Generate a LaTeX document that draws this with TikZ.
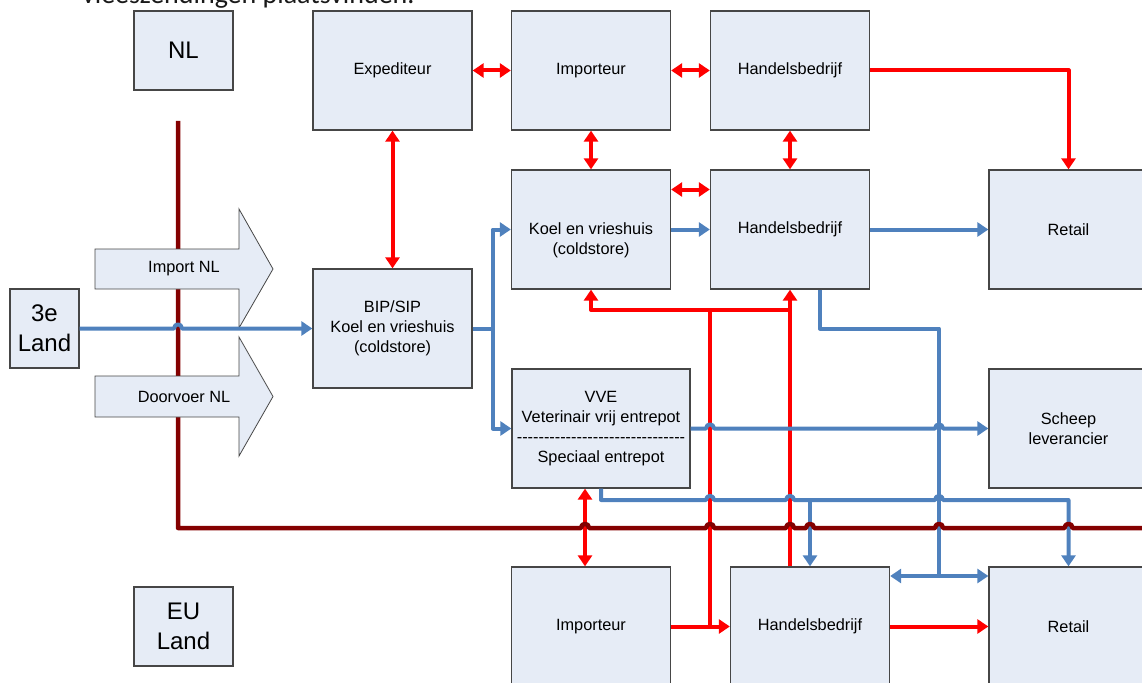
\documentclass[tikz,border=0pt]{standalone}
\usepackage{fontspec}
\setmainfont{Liberation Sans}
\newfontfamily\topfont{Carlito}
\usetikzlibrary{arrows.meta,calc}
\definecolor{boxfill}{RGB}{230,236,246}
\definecolor{boxline}{RGB}{70,70,70}
\definecolor{flowblue}{RGB}{79,129,189}
\definecolor{flowred}{RGB}{255,0,0}
\definecolor{borderred}{RGB}{132,0,0}
\newcommand\dashrow{-{}-{}-{}-{}-{}-{}-{}-{}-{}-{}-{}-{}-{}-{}-{}-{}-{}-{}-{}-{}-{}-{}-{}-{}-{}-{}-{}-{}-{}-{}-{}}
\begin{document}
\begin{tikzpicture}[x=1pt,y=-1pt,
  box/.style={draw=boxline,fill=boxfill,line width=1.3pt,minimum width=159pt,minimum height=119pt,inner sep=0pt,align=center,font=\fontsize{16.3}{20}\selectfont},
  landbox/.style={box,minimum width=99pt,minimum height=79pt,font=\fontsize{24}{30}\selectfont},
  bigarrow/.style={draw=boxline,fill=boxfill,line width=0.8pt,line join=miter},
  bl/.style={draw=flowblue,line width=4pt,line join=round},
  rd/.style={draw=flowred,line width=4pt,line join=round},
  brd/.style={draw=borderred,line width=4.5pt,line join=round},
  arr/.style={-{Triangle[length=11pt,width=14pt]}},
  darr/.style={{Triangle[length=11pt,width=14pt]}-{Triangle[length=11pt,width=14pt]}},
  ]
\useasboundingbox (0,0) rectangle (1142,682);

% title fragment (cut by the page top, as in the reference)
\node[anchor=base west,inner sep=0pt,font=\topfont\fontsize{28}{30}\selectfont,text=black!90] (title) at (82,4) {vleeszendingen plaatsvinden.};

% boxes
\node[landbox] (nl) at (183.5,50.5) {NL};
\node[landbox] (eu) at (183.5,626.5) {EU\\Land};
\node[landbox,minimum width=69pt] (land3) at (44.5,328.5) {3e\\Land};
\node[box] (exp) at (392.5,70.5) {Expediteur};
\node[box] (imp) at (591,70.5) {Importeur};
\node[box] (hb1) at (790,70.5) {Handelsbedrijf};
\node[box] (koel) at (591,229.5) {\strut\\Koel en vrieshuis\\(coldstore)};
\node[box] (hb2) at (790,229.5) {Handelsbedrijf};
\node[box] (ret1) at (1068.5,229.5) {Retail};
\node[box] (bip) at (392.5,328.5) {BIP/SIP\\Koel en vrieshuis\\(coldstore)};
\node[box,minimum width=178pt] (vve) at (601,428.5) {VVE\\Veterinair vrij entrepot\\\dashrow\\Speciaal entrepot};
\node[box] (sch) at (1068.5,428.5) {Scheep\\leverancier};
\node[box] (imp2) at (591,626.5) {Importeur};
\node[box] (hb3) at (810,626.5) {Handelsbedrijf};
\node[box] (ret2) at (1068.5,626.5) {Retail};

% red flows
\draw[rd,darr] (exp.east) -- (imp.west);
\draw[rd,darr] (imp.east) -- (hb1.west);
\draw[rd,darr] (exp.south) -- (bip.north);
\draw[rd,darr] (imp.south) -- (koel.north);
\draw[rd,darr] (hb1.south) -- (hb2.north);
\draw[rd,darr] ([yshift=40pt]koel.east) -- ([yshift=40pt]hb2.west);
\draw[rd,arr] (hb1.east) -| (ret1.north);
\draw[rd,darr] ([xshift=-16pt]vve.south) -- ([xshift=-6pt]imp2.north);
\draw[rd,arr] (imp2.east) -- (hb3.west);
\draw[rd,arr] (hb3.east) -- (ret2.west);
\coordinate (rj) at (710,310);
\draw[rd] (rj |- imp2.east) -- (rj);
\draw[rd,arr] (rj) -| (koel.south);
\draw[rd] (rj) -- (rj -| hb2.south);
\draw[rd,arr] ([xshift=-20pt]hb3.north) -- (hb2.south);

% blue flows
\draw[bl] (bip.east) -- ++(20,0) coordinate (bj);
\draw[bl,arr] (bj) |- (koel.west);
\draw[bl,arr] (bj) |- (vve.west);
\draw[bl,arr] (koel.east) -- (hb2.west);
\draw[bl,arr] (hb2.east) -- (ret1.west);
\coordinate (bj2) at (939,576);
\draw[bl] ([xshift=30pt]hb2.south) -- ++(0,39) -| (bj2);
\draw[bl,arr] (bj2) -- (bj2 -| hb3.east);
\draw[bl,arr] (bj2) -- (bj2 -| ret2.west);
\draw[bl,arr] (vve.east) -- (706,428.5) .. controls (706,423) and (714,423) .. (714,428.5)
  -- (935,428.5) .. controls (935,423) and (943,423) .. (943,428.5) -- (sch.west);
\draw[bl,arr] (vve.south) |- (706,500) .. controls (706,494.5) and (714,494.5) .. (714,500)
  -- (786,500) .. controls (786,494.5) and (794,494.5) .. (794,500)
  -- (935,500) .. controls (935,494.5) and (943,494.5) .. (943,500)
  -| (ret2.north);
\draw[bl,arr] (hb3.north |- 0,500) -- (hb3.north);

% border line NL / EU
\draw[brd] (178,121) -- (178,528)
  -- (581,528) .. controls (581,522.5) and (589,522.5) .. (589,528)
  -- (706,528) .. controls (706,522.5) and (714,522.5) .. (714,528)
  -- (786,528) .. controls (786,522.5) and (794,522.5) .. (794,528)
  -- (806,528) .. controls (806,522.5) and (814,522.5) .. (814,528)
  -- (935,528) .. controls (935,522.5) and (943,522.5) .. (943,528)
  -- (1064.5,528) .. controls (1064.5,522.5) and (1072.5,522.5) .. (1072.5,528)
  -- (1150,528);

% block arrows (on top of the border line)
\draw[bigarrow] (95,249) -- (239,249) -- (239,209) -- (273,269) -- (239,328) -- (239,289) -- (95,289) -- cycle;
\node[font=\fontsize{16.3}{20}\selectfont] (timp) at (184,269) {Import NL};
\draw[bigarrow] (95,376) -- (239,376) -- (239,337) -- (273,396.5) -- (239,456) -- (239,417) -- (95,417) -- cycle;
\node[font=\fontsize{16.3}{20}\selectfont] (tdoor) at (184,396.5) {Doorvoer NL};

% import flow from third country
\draw[bl,arr] (land3.east) -- (174,328.5) .. controls (174,323) and (182,323) .. (182,328.5) -- (bip.west);
\end{tikzpicture}
\end{document}
